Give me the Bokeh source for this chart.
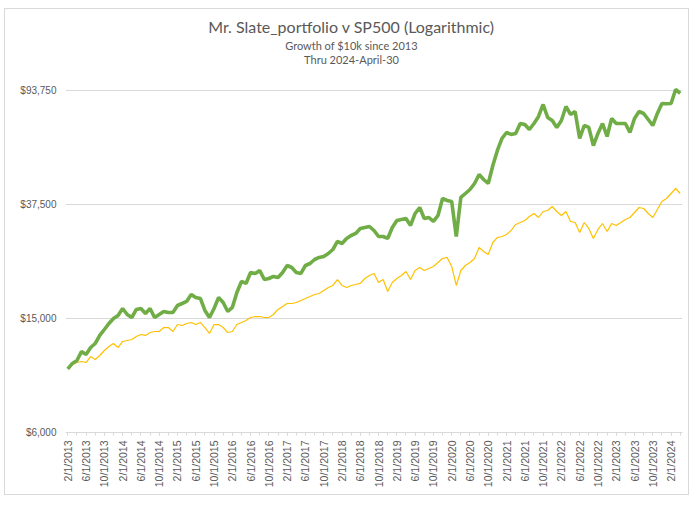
import math

import pandas as pd
from bokeh.embed import file_html
from bokeh.models import ColumnDataSource, FixedTicker, Label, Range1d
from bokeh.plotting import figure
from bokeh.resources import INLINE

TITLE = "Mr. Slate_portfolio v SP500 (Logarithmic)"
SUBTITLE = "Growth of $10k since 2013"
THRU_LINE = "Thru 2024-April-30"

# monthly categories, 2/1/2013 .. 4/1/2024
months = [f"{d.month}/1/{d.year}" for d in pd.date_range("2013-02-01", "2024-04-01", freq="MS")]

portfolio = [
    10000, 10450, 10700, 11510, 11230, 11880, 12270, 13090, 13730, 14410, 15000, 15370,
    16260, 15490, 15120, 16130, 16260, 15620, 16260, 15120, 15490, 15870, 15740, 15740,
    16650, 16920, 17200, 18190, 17760, 17620, 16000, 15120, 16260, 17760, 17060, 15870,
    16390, 18490, 20200, 19880, 21710, 21540, 22060, 20520, 20690, 21030, 20860, 21710,
    22970, 22600, 21710, 21540, 22970, 23340, 24100, 24500, 24690, 25290, 26120, 27860,
    27410, 28540, 29230, 29710, 30930, 31180, 31420, 30430, 29000, 29000, 28540, 31180,
    32980, 33250, 33510, 31680, 34890, 36610, 33510, 33780, 32720, 34330, 39360, 38730,
    38420, 29000, 39680, 40970, 42310, 44400, 47730, 45850, 44400, 51310, 57890, 63750,
    66900, 65840, 66370, 71920, 71350, 68530, 71920, 76090, 83790, 75480, 73680, 69650,
    73680, 82450, 77320, 79200, 63750, 70770, 69650, 60260, 66370, 71920, 64790, 74870,
    71920, 71920, 71920, 66900, 74870, 79200, 77940, 74270, 70770, 77940, 84470, 84300,
    84470, 94530, 91540,
]

sp500 = [
    10000, 10360, 10530, 10620, 10530, 11050, 10790, 11140, 11600, 11980, 12270, 11880,
    12470, 12570, 12670, 12980, 13190, 13090, 13400, 13510, 13510, 13950, 13950, 13510,
    14290, 14180, 14410, 14530, 14290, 14530, 13950, 13300, 14290, 14290, 13950, 13400,
    13510, 14290, 14530, 14760, 15120, 15240, 15240, 15120, 15120, 15490, 16130, 16520,
    16920, 16920, 17060, 17340, 17620, 17900, 18190, 18340, 18790, 19250, 19560, 20520,
    19560, 19250, 19560, 19720, 19880, 20690, 21200, 21540, 20040, 20520, 18640, 20040,
    20690, 21200, 21890, 20520, 22060, 22600, 22060, 22420, 22790, 23530, 24300, 24500,
    22790, 19560, 22060, 22970, 23530, 24300, 26540, 25700, 25090, 27630, 28770, 29000,
    29470, 30430, 31940, 32450, 32980, 34060, 34890, 33780, 35450, 35740, 36910, 35450,
    34330, 35450, 32720, 32450, 29950, 32450, 30930, 28540, 30680, 32190, 30190, 32190,
    31680, 32450, 33250, 33780, 35170, 36610, 36320, 34890, 33780, 36030, 38420, 39360,
    40970, 42650, 40970,
]

y_ticks = [6000, 15000, 37500, 93750]
y_tick_labels = ["$6,000", "$15,000", "$37,500", "$93,750"]

TEXT_COLOR = "#595959"
GRID_COLOR = "#d9d9d9"

source = ColumnDataSource(data={"idx": list(range(len(months))), "month": months,
                                "portfolio": portfolio, "sp500": sp500})

# frame runs from the top of the canvas to the $6,000 line; 114px per x2.5 step
p = figure(width=685, height=487, y_axis_type="log",
           x_range=Range1d(-0.5, len(months) - 0.5),
           y_range=Range1d(6000, 6000 * 2.5 ** (423 / 114)),
           output_backend="svg", toolbar_location=None,
           min_border_left=60, min_border_right=8, min_border_top=0, min_border_bottom=64)
p.styles = {"border": "1px solid #d9d9d9", "margin-left": "4px", "margin-top": "8px"}
p.outline_line_color = None
p.background_fill_color = "white"
p.border_fill_color = "white"

p.line(x="idx", y="sp500", source=source, line_color="#FFC000", line_width=1.2)
p.line(x="idx", y="portfolio", source=source, line_color="#70AD47", line_width=3.6)

# y axis
p.yaxis.ticker = FixedTicker(ticks=y_ticks, minor_ticks=[])
p.yaxis.major_label_overrides = dict(zip(y_ticks, y_tick_labels))
p.yaxis.axis_line_color = None
p.yaxis.major_tick_line_color = None
p.yaxis.minor_tick_line_color = None
p.yaxis.major_tick_in = 0
p.yaxis.major_tick_out = 0
p.yaxis.major_label_standoff = 9
p.yaxis.major_label_text_font = "Liberation Sans"
p.yaxis.major_label_text_font_size = "10px"
p.yaxis.major_label_text_color = TEXT_COLOR
p.ygrid.ticker = FixedTicker(ticks=y_ticks)
p.ygrid.grid_line_color = GRID_COLOR
p.xgrid.grid_line_color = None

# x axis
label_idx = list(range(0, len(months), 4))
p.xaxis.ticker = FixedTicker(ticks=label_idx, minor_ticks=list(range(0, len(months), 2)))
p.xaxis.major_label_overrides = {i: months[i] for i in label_idx}
p.xaxis.major_label_orientation = math.pi / 2
p.xaxis.axis_line_color = GRID_COLOR
p.xaxis.major_tick_line_color = GRID_COLOR
p.xaxis.minor_tick_line_color = GRID_COLOR
p.xaxis.major_tick_in = 0
p.xaxis.major_tick_out = 3
p.xaxis.minor_tick_in = 0
p.xaxis.minor_tick_out = 3
p.xaxis.major_label_standoff = 5
p.xaxis.major_label_text_font = "Liberation Sans"
p.xaxis.major_label_text_font_size = "10.5px"
p.xaxis.major_label_text_color = TEXT_COLOR

# titles (screen units measured from the frame's bottom-left corner)
for text, y, size in [(TITLE, 406, "16px"), (SUBTITLE, 387.5, "11px"), (THRU_LINE, 373, "11px")]:
    p.add_layout(Label(x=286, y=y, x_units="screen", y_units="screen", text=text,
                       text_align="center", text_baseline="middle", text_font="Lato",
                       text_font_size=size, text_color=TEXT_COLOR))

open("out.html", "w").write(file_html(p, INLINE))
